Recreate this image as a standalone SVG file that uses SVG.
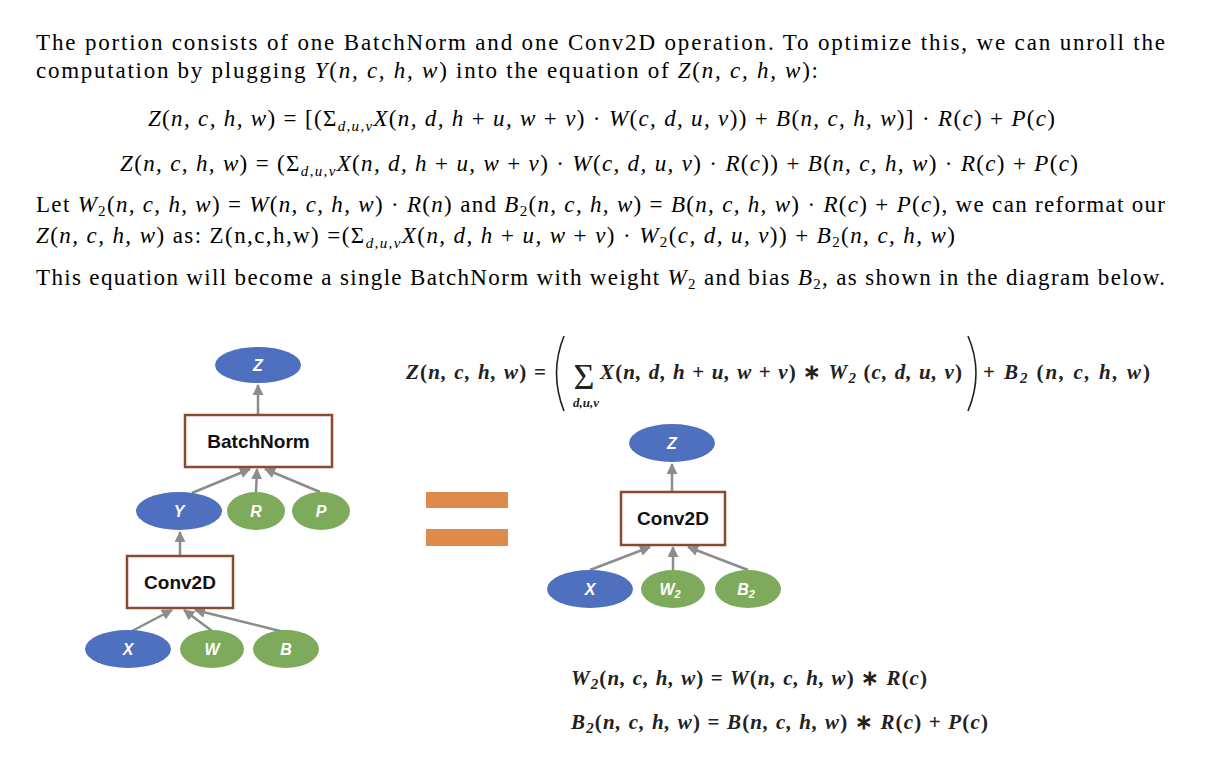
<svg xmlns="http://www.w3.org/2000/svg" width="1208" height="760" viewBox="0 0 1208 760">
<defs>
<style>
.t{font-family:"Liberation Serif",serif;font-size:23px;fill:#000}
.i{font-style:italic}
.s{font-size:15px}
.b{font-family:"Liberation Serif",serif;font-weight:bold;font-style:italic;font-size:21px;fill:#222}
.u{font-style:normal}
.blue{fill:#4F6FBF}
.green{fill:#7EAB5B}
.lbl{font-family:"Liberation Sans",Arial,sans-serif;font-weight:bold;font-style:italic;font-size:16px;fill:#fff;text-anchor:middle}
.op rect{fill:#fff;stroke:#8B4A2E;stroke-width:2.5}
.op text{font-family:"Liberation Sans",Arial,sans-serif;font-weight:bold;font-size:19px;fill:#111;text-anchor:middle}
.edge{stroke:#8C8C8C;stroke-width:2.5;fill:none;marker-end:url(#ah)}
.bar{fill:#DD8A4B}
</style>
<marker id="ah" markerUnits="userSpaceOnUse" markerWidth="11" markerHeight="11" refX="10" refY="5.5" orient="auto">
<path d="M0,0 L11,5.5 L0,11 z" fill="#8C8C8C"/>
</marker>
</defs>

<g id="text">
<text class="t" x="36" y="50" textLength="1129" lengthAdjust="spacing">The portion consists of one BatchNorm and one Conv2D operation.  To optimize this, we can unroll the</text>
<text class="t" x="36" y="78" textLength="782" lengthAdjust="spacing">computation by plugging <tspan class="i">Y</tspan>(<tspan class="i">n, c, h, w</tspan>) into the equation of <tspan class="i">Z</tspan>(<tspan class="i">n, c, h, w</tspan>):</text>
<text class="t" x="148" y="126" textLength="907" lengthAdjust="spacing"><tspan class="i">Z</tspan>(<tspan class="i">n, c, h, w</tspan>) = [(Σ<tspan class="s i" dy="5">d,u,v</tspan><tspan class="i" dy="-5">X</tspan>(<tspan class="i">n, d, h</tspan> + <tspan class="i">u, w</tspan> + <tspan class="i">v</tspan>) · <tspan class="i">W</tspan>(<tspan class="i">c, d, u, v</tspan>)) + <tspan class="i">B</tspan>(<tspan class="i">n, c, h, w</tspan>)] · <tspan class="i">R</tspan>(<tspan class="i">c</tspan>) + <tspan class="i">P</tspan>(<tspan class="i">c</tspan>)</text>
<text class="t" x="120" y="171" textLength="958" lengthAdjust="spacing"><tspan class="i">Z</tspan>(<tspan class="i">n, c, h, w</tspan>) = (Σ<tspan class="s i" dy="5">d,u,v</tspan><tspan class="i" dy="-5">X</tspan>(<tspan class="i">n, d, h</tspan> + <tspan class="i">u, w</tspan> + <tspan class="i">v</tspan>) · <tspan class="i">W</tspan>(<tspan class="i">c, d, u, v</tspan>) · <tspan class="i">R</tspan>(<tspan class="i">c</tspan>)) + <tspan class="i">B</tspan>(<tspan class="i">n, c, h, w</tspan>) · <tspan class="i">R</tspan>(<tspan class="i">c</tspan>) + <tspan class="i">P</tspan>(<tspan class="i">c</tspan>)</text>
<text class="t" x="36" y="212" textLength="1129" lengthAdjust="spacing">Let <tspan class="i">W</tspan><tspan class="s" dy="4">2</tspan><tspan dy="-4">(</tspan><tspan class="i">n, c, h, w</tspan>) = <tspan class="i">W</tspan>(<tspan class="i">n, c, h, w</tspan>) · <tspan class="i">R</tspan>(<tspan class="i">n</tspan>) and <tspan class="i">B</tspan><tspan class="s" dy="4">2</tspan><tspan dy="-4">(</tspan><tspan class="i">n, c, h, w</tspan>) = <tspan class="i">B</tspan>(<tspan class="i">n, c, h, w</tspan>) · <tspan class="i">R</tspan>(<tspan class="i">c</tspan>) + <tspan class="i">P</tspan>(<tspan class="i">c</tspan>), we can reformat our</text>
<text class="t" x="36" y="243" textLength="919" lengthAdjust="spacing"><tspan class="i">Z</tspan>(<tspan class="i">n, c, h, w</tspan>) as: Z(n,c,h,w) =(Σ<tspan class="s i" dy="5">d,u,v</tspan><tspan class="i" dy="-5">X</tspan>(<tspan class="i">n, d, h</tspan> + <tspan class="i">u, w</tspan> + <tspan class="i">v</tspan>) · <tspan class="i">W</tspan><tspan class="s" dy="4">2</tspan><tspan dy="-4">(</tspan><tspan class="i">c, d, u, v</tspan>)) + <tspan class="i">B</tspan><tspan class="s" dy="4">2</tspan><tspan dy="-4">(</tspan><tspan class="i">n, c, h, w</tspan>)</text>
<text class="t" x="36" y="285" textLength="1129" lengthAdjust="spacing">This equation will become a single BatchNorm with weight <tspan class="i">W</tspan><tspan class="s" dy="4">2</tspan><tspan dy="-4"> and bias </tspan><tspan class="i">B</tspan><tspan class="s" dy="4">2</tspan><tspan dy="-4">, as shown in the diagram below.</tspan></text>
</g>

<g id="equation-top">
<text class="b" x="406" y="379" textLength="140" lengthAdjust="spacing">Z<tspan class="u">(</tspan>n, c, h, w<tspan class="u">) =</tspan></text>
<path d="M564 336 Q549 373 564 411" stroke="#222" stroke-width="1.6" fill="none"/>
<text x="584" y="389" font-family="Liberation Serif,serif" font-size="36" text-anchor="middle" fill="#222">Σ</text>
<text class="b" x="586" y="407" text-anchor="middle" style="font-size:13px">d,u,v</text>
<text class="b" x="600" y="379" textLength="362" lengthAdjust="spacing">X<tspan class="u">(</tspan>n, d, h <tspan class="u">+</tspan> u, w <tspan class="u">+</tspan> v<tspan class="u">) ∗ </tspan>W<tspan style="font-size:15px" dy="4">2</tspan><tspan class="u" dy="-4"> (</tspan>c, d, u, v<tspan class="u">)</tspan></text>
<path d="M968 336 Q984 373 968 411" stroke="#222" stroke-width="1.6" fill="none"/>
<text class="b" x="983" y="379" textLength="167" lengthAdjust="spacing"><tspan class="u">+ </tspan>B<tspan style="font-size:15px" dy="4">2</tspan><tspan class="u" dy="-4"> (</tspan>n, c, h, w<tspan class="u">)</tspan></text>
</g>

<g id="equation-bottom">
<text class="b" x="571" y="685" textLength="356" lengthAdjust="spacing">W<tspan style="font-size:15px" dy="4">2</tspan><tspan class="u" dy="-4">(</tspan>n, c, h, w<tspan class="u">) = </tspan>W<tspan class="u">(</tspan>n, c, h, w<tspan class="u">) ∗ </tspan>R<tspan class="u">(</tspan>c<tspan class="u">)</tspan></text>
<text class="b" x="571" y="729" textLength="417" lengthAdjust="spacing">B<tspan style="font-size:15px" dy="4">2</tspan><tspan class="u" dy="-4">(</tspan>n, c, h, w<tspan class="u">) = </tspan>B<tspan class="u">(</tspan>n, c, h, w<tspan class="u">) ∗ </tspan>R<tspan class="u">(</tspan>c<tspan class="u">) + </tspan>P<tspan class="u">(</tspan>c<tspan class="u">)</tspan></text>
</g>

<g id="connectors">
<path class="edge" d="M258 415 L258 385"/>
<path class="edge" d="M192 493 L250 469"/>
<path class="edge" d="M256 492 L257 469"/>
<path class="edge" d="M320 492 L265 469"/>
<path class="edge" d="M180 556 L180 532"/>
<path class="edge" d="M132 631 L172 610"/>
<path class="edge" d="M212 631 L184 610"/>
<path class="edge" d="M284 632 L195 610"/>
<path class="edge" d="M672 492 L672 464"/>
<path class="edge" d="M590 570 L650 547"/>
<path class="edge" d="M673 570 L673 547"/>
<path class="edge" d="M748 570 L688 547"/>
</g>

<g id="equals"><rect class="bar" x="426" y="492" width="82" height="16"/><rect class="bar" x="426" y="529" width="82" height="17"/></g>

<g id="L-Z"><ellipse class="blue" cx="258" cy="365" rx="43" ry="18"/><text class="lbl" x="258" y="371">Z</text></g>
<g id="L-BatchNorm" class="op"><rect x="185" y="415" width="147" height="52"/><text x="258.5" y="448">BatchNorm</text></g>
<g id="L-Y"><ellipse class="blue" cx="179" cy="511" rx="43" ry="19"/><text class="lbl" x="179" y="517">Y</text></g>
<g id="L-R"><ellipse class="green" cx="256" cy="511" rx="29" ry="19"/><text class="lbl" x="256" y="517">R</text></g>
<g id="L-P"><ellipse class="green" cx="321" cy="511" rx="29" ry="19"/><text class="lbl" x="321" y="517">P</text></g>
<g id="L-Conv2D" class="op"><rect x="127" y="556" width="106" height="52"/><text x="180" y="589">Conv2D</text></g>
<g id="L-X"><ellipse class="blue" cx="128" cy="649" rx="43" ry="19"/><text class="lbl" x="128" y="655">X</text></g>
<g id="L-W"><ellipse class="green" cx="212" cy="649" rx="32" ry="19"/><text class="lbl" x="212" y="655">W</text></g>
<g id="L-B"><ellipse class="green" cx="286" cy="649" rx="33" ry="19"/><text class="lbl" x="286" y="655">B</text></g>

<g id="R-Z"><ellipse class="blue" cx="672" cy="443" rx="43" ry="19"/><text class="lbl" x="672" y="449">Z</text></g>
<g id="R-Conv2D" class="op"><rect x="621" y="492" width="104" height="53"/><text x="673" y="525">Conv2D</text></g>
<g id="R-X"><ellipse class="blue" cx="590" cy="589" rx="43" ry="19"/><text class="lbl" x="590" y="595">X</text></g>
<g id="R-W2"><ellipse class="green" cx="673" cy="589" rx="32" ry="19"/><text class="lbl" x="670" y="595">W<tspan style="font-size:11px" dy="3">2</tspan></text></g>
<g id="R-B2"><ellipse class="green" cx="748" cy="589" rx="33" ry="19"/><text class="lbl" x="746" y="595">B<tspan style="font-size:11px" dy="3">2</tspan></text></g>
</svg>
